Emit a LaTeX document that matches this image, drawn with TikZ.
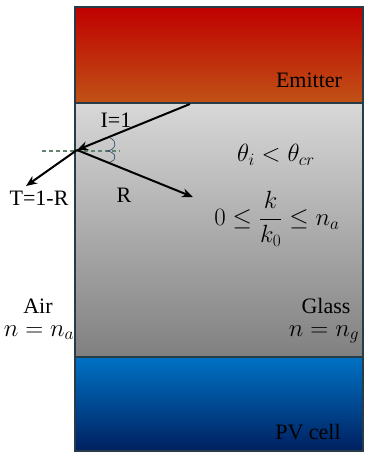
\documentclass[tikz,border=0pt]{standalone}
\usepackage{fontspec}
\setmainfont{Liberation Serif}
\usetikzlibrary{arrows.meta}
\definecolor{bordc}{RGB}{40,60,72}
\definecolor{emtop}{RGB}{192,0,0}
\definecolor{embot}{RGB}{192,82,22}
\definecolor{gltop}{RGB}{216,216,216}
\definecolor{glbot}{RGB}{128,128,128}
\definecolor{pvtop}{RGB}{0,114,196}
\definecolor{pvbot}{RGB}{0,32,96}
\definecolor{normc}{RGB}{100,130,112}
\definecolor{arcc}{RGB}{40,70,100}
\tikzset{
  layer/.style={draw=bordc, line width=1.4pt},
  lbl/.style={font=\fontsize{22}{26}\selectfont, inner sep=0pt, anchor=base},
  nlbl/.style={font=\fontsize{25}{29}\selectfont, inner sep=0pt, anchor=base},
  mlbl/.style={font=\fontsize{23}{27}\selectfont, inner sep=0pt},
  ray/.style={line width=2pt, -{Stealth[length=11pt,width=9pt]}},
}
\begin{document}
\begin{tikzpicture}[x=1pt,y=-1pt]
\useasboundingbox (0,0) rectangle (366,452);
% layers
\path[layer, top color=emtop, bottom color=embot] (75,7) rectangle (363,103);
\path[layer, top color=gltop, bottom color=glbot] (75,103) rectangle (363,357);
\path[layer, top color=pvtop, bottom color=pvbot] (75,357) rectangle (363,451);
% labels
\node[lbl] (emit) at (309,87) {Emitter};
\node[lbl] (pv) at (308,439) {PV cell};
\node[lbl] (glass) at (326,313) {Glass};
\node[lbl] (air) at (38,313) {Air};
\node[nlbl] (ng) at (324,336) {$n=n_g$};
\node[nlbl] (na) at (39,336) {$n=n_a$};
\node[mlbl] (cond) at (276,155) {$\theta_i<\theta_{cr}$};
\node[mlbl] (kk) at (277,219) {$\displaystyle 0\le\frac{k}{k_0}\le n_a$};
% rays
\coordinate (src) at (190,104);
\coordinate (hit) at (77,150);
\coordinate (tend) at (26,186);
\coordinate (rend) at (193,197);
\coordinate (nl) at (42,151);
\coordinate (nr) at (120,151);
\draw[normc, line width=1.1pt, dash pattern=on 4pt off 3pt] (nl) -- (nr);
\draw[arcc, line width=0.6pt] (110,138) .. controls (118,141) and (116,150) .. (107,151)
  .. controls (116,152) and (118,160) .. (110,162);
\draw[ray] (src) -- (hit);
\draw[ray] (hit) -- (tend);
\draw[ray] (hit) -- (rend);
\node[lbl] (inc) at (116,127) {I=1};
\node[lbl] (trans) at (39,205) {T=1-R};
\node[lbl] (refl) at (124,202) {R};
\end{tikzpicture}
\end{document}
